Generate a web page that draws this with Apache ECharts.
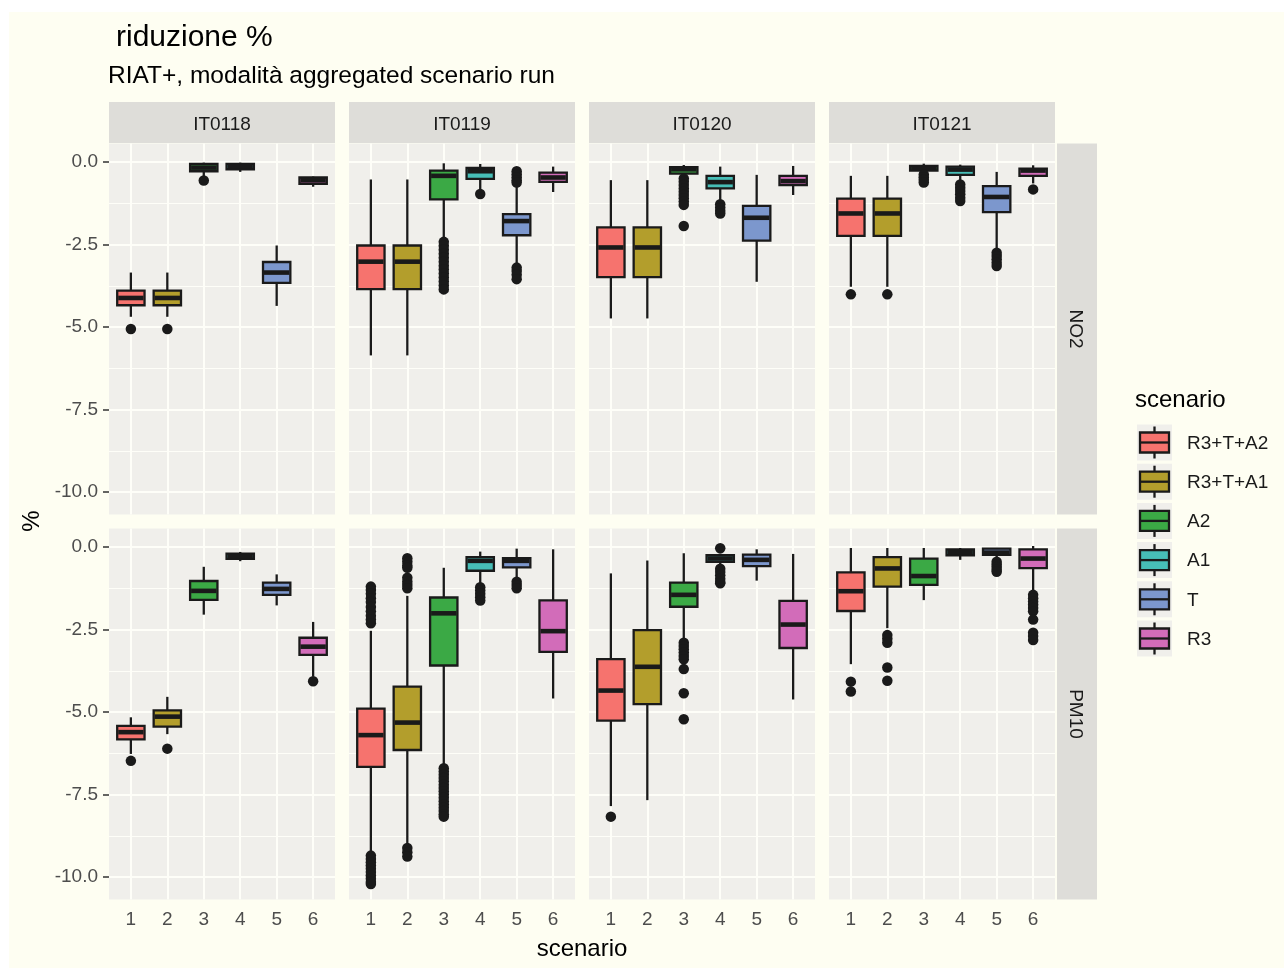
<!DOCTYPE html>
<html><head><meta charset="utf-8">
<script src="https://cdn.jsdelivr.net/npm/echarts@6/dist/echarts.min.js"></script>
<style>html,body{margin:0;padding:0;background:#fff}#c{width:1284px;height:968px}</style>
</head><body><div id="c"></div>
<script>
const scenarios = ['R3+T+A2','R3+T+A1','A2','A1','T','R3'];
const scenarioColors = ['#F6736E','#B39E2C','#3BA945','#47BEB7','#7C97CD','#D26CB9'];
const xLabels = ['1','2','3','4','5','6'];
const stations = ['IT0118','IT0119','IT0120','IT0121'];
const pollutants = ['NO2','PM10'];
const yTickValues = [0,-2.5,-5,-7.5,-10];
const yMinorValues = [-1.25,-3.75,-6.25,-8.75];

// [lower whisker, Q1, median, Q3, upper whisker] per scenario
const NO2_IT0118 = [
 [-4.69,-4.34,-4.12,-3.90,-3.35],
 [-4.69,-4.34,-4.12,-3.90,-3.35],
 [-0.44,-0.28,-0.17,-0.06,-0.02],
 [-0.30,-0.22,-0.12,-0.06,-0.02],
 [-4.36,-3.66,-3.35,-3.03,-2.53],
 [-0.75,-0.66,-0.55,-0.47,-0.44]];
const NO2_IT0118_out = [[-5.06],[-5.06],[-0.56],[],[],[]];

const NO2_IT0119 = [
 [-5.86,-3.85,-3.02,-2.53,-0.53],
 [-5.86,-3.85,-3.02,-2.53,-0.53],
 [-2.36,-1.13,-0.42,-0.26,-0.04],
 [-0.85,-0.51,-0.28,-0.18,-0.06],
 [-3.12,-2.22,-1.79,-1.58,-0.65],
 [-0.91,-0.60,-0.47,-0.32,-0.14]];
const NO2_IT0119_out = [[],[],
 [-2.42,-2.54,-2.66,-2.78,-2.9,-3.02,-3.14,-3.26,-3.38,-3.5,-3.62,-3.74,-3.86],
 [-0.97],
 [-0.28,-0.37,-0.46,-0.55,-0.62,-3.2,-3.3,-3.42,-3.55],
 []];

const NO2_IT0120 = [
 [-4.74,-3.49,-2.59,-1.98,-0.55],
 [-4.74,-3.49,-2.59,-1.98,-0.55],
 [-0.46,-0.35,-0.22,-0.16,-0.09],
 [-1.20,-0.80,-0.61,-0.42,-0.14],
 [-3.63,-2.38,-1.69,-1.33,-0.39],
 [-1.00,-0.70,-0.58,-0.42,-0.12]];
const NO2_IT0120_out = [[],[],
 [-0.5,-0.6,-0.7,-0.8,-0.9,-1.0,-1.1,-1.2,-1.3,-1.94],
 [-1.28,-1.38,-1.48,-1.56],
 [],[]];

const NO2_IT0121 = [
 [-3.78,-2.24,-1.56,-1.11,-0.42],
 [-3.78,-2.24,-1.56,-1.11,-0.42],
 [-0.33,-0.26,-0.20,-0.12,-0.05],
 [-0.60,-0.39,-0.23,-0.14,-0.08],
 [-2.67,-1.52,-1.06,-0.73,-0.30],
 [-0.65,-0.42,-0.26,-0.20,-0.10]];
const NO2_IT0121_out = [[-4.01],[-4.01],
 [-0.38,-0.46,-0.54,-0.62],
 [-0.68,-0.78,-0.88,-0.98,-1.08,-1.18],
 [-2.75,-2.85,-2.95,-3.05,-3.15],
 [-0.83]];

const PM10_IT0118 = [
 [-6.27,-5.83,-5.61,-5.42,-5.16],
 [-5.67,-5.44,-5.14,-4.95,-4.54],
 [-2.05,-1.60,-1.33,-1.03,-0.60],
 [-0.43,-0.36,-0.28,-0.20,-0.15],
 [-1.77,-1.45,-1.27,-1.08,-0.83],
 [-3.93,-3.27,-3.02,-2.75,-2.27]];
const PM10_IT0118_out = [[-6.48],[-6.11],[],[],[],[-4.07]];

const PM10_IT0119 = [
 [-9.28,-6.66,-5.70,-4.90,-2.54],
 [-9.03,-6.15,-5.32,-4.23,-1.48],
 [-6.61,-3.59,-2.01,-1.53,-0.63],
 [-1.15,-0.72,-0.42,-0.31,-0.14],
 [-0.98,-0.62,-0.42,-0.34,-0.05],
 [-4.59,-3.18,-2.55,-1.62,-0.07]];
const PM10_IT0119_out = [
 [-1.2,-1.3,-1.42,-1.55,-1.67,-1.82,-1.95,-2.08,-2.2,-2.31,-9.35,-9.45,-9.55,-9.65,-9.75,-9.85,-9.95,-10.05,-10.15,-10.21],
 [-0.34,-0.45,-0.56,-0.63,-0.93,-1.05,-1.15,-1.25,-9.12,-9.25,-9.38],
 [-6.7,-6.8,-6.9,-7.0,-7.1,-7.2,-7.3,-7.4,-7.5,-7.6,-7.7,-7.8,-7.9,-8.0,-8.1,-8.17],
 [-1.22,-1.32,-1.42,-1.52,-1.62],
 [-1.05,-1.15,-1.25],
 []];

const PM10_IT0120 = [
 [-7.85,-5.26,-4.35,-3.40,-0.80],
 [-7.67,-4.76,-3.63,-2.52,-0.41],
 [-2.82,-1.81,-1.45,-1.08,-0.19],
 [-0.60,-0.45,-0.35,-0.25,-0.20],
 [-1.02,-0.58,-0.39,-0.23,-0.07],
 [-4.62,-3.06,-2.35,-1.63,-0.21]];
const PM10_IT0120_out = [[-8.17],[],
 [-2.9,-3.0,-3.1,-3.2,-3.3,-3.4,-3.7,-4.43,-5.22],
 [-0.04,-0.66,-0.76,-0.86,-0.96,-1.06,-1.1],
 [],[]];

const PM10_IT0121 = [
 [-3.55,-1.94,-1.34,-0.77,-0.03],
 [-2.46,-1.20,-0.65,-0.31,-0.03],
 [-1.61,-1.15,-0.88,-0.35,-0.03],
 [-0.39,-0.25,-0.16,-0.07,-0.03],
 [-0.38,-0.24,-0.17,-0.05,-0.03],
 [-1.38,-0.64,-0.35,-0.07,0.03]];
const PM10_IT0121_out = [[-4.08,-4.38],[-2.67,-2.78,-2.9,-3.65,-4.05],[],[],
 [-0.45,-0.53,-0.61,-0.69,-0.75],
 [-1.45,-1.55,-1.65,-1.75,-1.85,-1.95,-2.2,-2.6,-2.7,-2.82]];

const panelStats = [
  [NO2_IT0118, NO2_IT0119, NO2_IT0120, NO2_IT0121],
  [PM10_IT0118, PM10_IT0119, PM10_IT0120, PM10_IT0121]];
const panelOut = [
  [NO2_IT0118_out, NO2_IT0119_out, NO2_IT0120_out, NO2_IT0121_out],
  [PM10_IT0118_out, PM10_IT0119_out, PM10_IT0120_out, PM10_IT0121_out]];

// layout
const FONT = "'Liberation Sans', Arial, Helvetica, sans-serif";
const colLeft = [109, 349, 589, 829], panelW = 226;
const rowTop = [143.5, 528.5], panelH = 371;
const Y_MIN = -10.68, Y_MAX = 0.56;
const X_MIN = 0.4, X_MAX = 6.6;   // discrete scale expansion (0.6 each side)
const xTickValues = xLabels.map((_, k) => k + 1);
const PANEL_BG = '#F0EFEB', STRIP_BG = '#DEDDD9', GRID_LINE = '#FEFEF8', INK = '#1A1A1A';
const LW = 2.3;

function renderBox(params, api) {
  const x = api.value(0);
  const lo = api.coord([x, api.value(1)]);
  const q1 = api.coord([x, api.value(2)]);
  const md = api.coord([x, api.value(3)]);
  const q3 = api.coord([x, api.value(4)]);
  const hi = api.coord([x, api.value(5)]);
  const bw = api.size([1, 0])[0] * 0.75;
  const cx = lo[0];
  const st = {stroke: INK, lineWidth: LW};
  return {type: 'group', children: [
    {type: 'line', shape: {x1: cx, y1: hi[1], x2: cx, y2: q3[1]}, style: st},
    {type: 'line', shape: {x1: cx, y1: q1[1], x2: cx, y2: lo[1]}, style: st},
    {type: 'rect', shape: {x: cx - bw / 2, y: q3[1], width: bw, height: q1[1] - q3[1]},
      style: {fill: scenarioColors[x - 1], stroke: INK, lineWidth: LW}},
    {type: 'line', shape: {x1: cx - bw / 2 + 1, y1: md[1], x2: cx + bw / 2 - 1, y2: md[1]},
      style: {stroke: INK, lineWidth: 4.6}}
  ]};
}

const grids = [], xAxes = [], yAxes = [], series = [], graphics = [];
pollutants.forEach((pol, r) => {
  stations.forEach((stn, c) => {
    const i = r * 4 + c;
    grids.push({left: colLeft[c], top: rowTop[r], width: panelW, height: panelH,
      show: true, backgroundColor: PANEL_BG, borderWidth: 0});
    xAxes.push({type: 'value', gridIndex: i, min: X_MIN, max: X_MAX,
      axisLine: {show: false},
      axisTick: {show: r === 1, length: 6, customValues: xTickValues, lineStyle: {color: '#333', width: 1.5}},
      axisLabel: {show: r === 1, customValues: xTickValues, formatter: v => xLabels[Math.round(v) - 1],
        color: '#4D4D4D', fontSize: 19, fontFamily: FONT, margin: 11},
      splitLine: {show: false}, minorSplitLine: {show: false}});
    yAxes.push({type: 'value', gridIndex: i, min: Y_MIN, max: Y_MAX,
      axisLine: {show: false},
      axisTick: {show: c === 0, length: 6, customValues: yTickValues, lineStyle: {color: '#333', width: 1.5}},
      axisLabel: {show: c === 0, customValues: yTickValues, formatter: v => Number(v).toFixed(1),
        color: '#4D4D4D', fontSize: 19, fontFamily: FONT, margin: 11},
      splitLine: {show: false}, minorSplitLine: {show: false}});
    const ml = [];
    yMinorValues.forEach(v => ml.push({yAxis: v, lineStyle: {color: GRID_LINE, width: 1, type: 'solid'}}));
    yTickValues.forEach(v => ml.push({yAxis: v, lineStyle: {color: GRID_LINE, width: 2, type: 'solid'}}));
    xTickValues.forEach(v => ml.push({xAxis: v, lineStyle: {color: GRID_LINE, width: 2, type: 'solid'}}));
    series.push({type: 'scatter', xAxisIndex: i, yAxisIndex: i, data: [], silent: true, z: 1,
      markLine: {silent: true, z: 1, symbol: ['none', 'none'], animation: false, label: {show: false},
        data: ml}});
    series.push({type: 'custom', xAxisIndex: i, yAxisIndex: i, z: 10, silent: true, animation: false,
      renderItem: renderBox, encode: {x: 0, y: [1, 2, 3, 4, 5]},
      data: panelStats[r][c].map((s, k) => [k + 1].concat(s))});
    const pts = [];
    panelOut[r][c].forEach((arr, k) => arr.forEach(v => pts.push([k + 1, v])));
    series.push({type: 'scatter', xAxisIndex: i, yAxisIndex: i, z: 11, silent: true, animation: false,
      symbolSize: 10.5, itemStyle: {color: INK, opacity: 1, borderWidth: 0}, data: pts});
    if (r === 0) {
      graphics.push({type: 'rect', shape: {x: colLeft[c], y: 102, width: panelW, height: 41}, style: {fill: STRIP_BG}, silent: true});
      graphics.push({type: 'text', x: colLeft[c] + panelW / 2, y: 124.5,
        style: {text: stn, fill: INK, fontSize: 19, fontFamily: FONT, textAlign: 'center', textVerticalAlign: 'middle'}});
    }
  });
  graphics.push({type: 'rect', shape: {x: 1057, y: rowTop[r], width: 40, height: panelH}, style: {fill: STRIP_BG}, silent: true});
  graphics.push({type: 'text', x: 1075.5, y: rowTop[r] + panelH / 2, rotation: -Math.PI / 2,
    style: {text: pol, fill: INK, fontSize: 19, fontFamily: FONT, textAlign: 'center', textVerticalAlign: 'middle'}});
});

// outer white margins
graphics.push({type: 'rect', shape: {x: 0, y: 0, width: 1284, height: 12}, style: {fill: '#FFFFFF'}, silent: true});
graphics.push({type: 'rect', shape: {x: 0, y: 0, width: 9, height: 968}, style: {fill: '#FFFFFF'}, silent: true});

// axis titles
graphics.push({type: 'text', x: 582, y: 949.5,
  style: {text: 'scenario', fill: '#000', fontSize: 24, fontFamily: FONT, textAlign: 'center', textVerticalAlign: 'middle'}});
graphics.push({type: 'text', x: 32, y: 521, rotation: Math.PI / 2,
  style: {text: '%', fill: '#000', fontSize: 24, fontFamily: FONT, textAlign: 'center', textVerticalAlign: 'middle'}});

// legend
graphics.push({type: 'text', x: 1135, y: 400,
  style: {text: 'scenario', fill: '#000', fontSize: 24, fontFamily: FONT, textAlign: 'left', textVerticalAlign: 'middle'}});
scenarios.forEach((name, k) => {
  const cy = 442.5 + k * 39.2;
  graphics.push({type: 'rect', shape: {x: 1137, y: cy - 18, width: 35, height: 36}, style: {fill: PANEL_BG}, silent: true});
  graphics.push({type: 'line', shape: {x1: 1154.5, y1: cy - 16, x2: 1154.5, y2: cy + 16}, style: {stroke: INK, lineWidth: LW}});
  graphics.push({type: 'rect', shape: {x: 1140, y: cy - 10, width: 29, height: 20}, style: {fill: scenarioColors[k], stroke: INK, lineWidth: LW}});
  graphics.push({type: 'line', shape: {x1: 1140, y1: cy, x2: 1169, y2: cy}, style: {stroke: INK, lineWidth: LW}});
  graphics.push({type: 'text', x: 1187, y: cy + 1,
    style: {text: name, fill: INK, fontSize: 19, fontFamily: FONT, textAlign: 'left', textVerticalAlign: 'middle'}});
});

const chart = echarts.init(document.getElementById('c'), null, {renderer: 'canvas'});
chart.setOption({
  backgroundColor: '#FEFEF2',
  animation: false,
  title: [
    {text: 'riduzione %', left: 116, top: 23, padding: 0,
      textStyle: {fontSize: 30, fontWeight: 'normal', color: '#000', fontFamily: FONT}},
    {text: 'RIAT+, modalità aggregated scenario run', left: 108, top: 63.5, padding: 0,
      textStyle: {fontSize: 24.5, fontWeight: 'normal', color: '#000', fontFamily: FONT}}
  ],
  grid: grids, xAxis: xAxes, yAxis: yAxes, series: series,
  graphic: graphics
});
</script></body></html>
